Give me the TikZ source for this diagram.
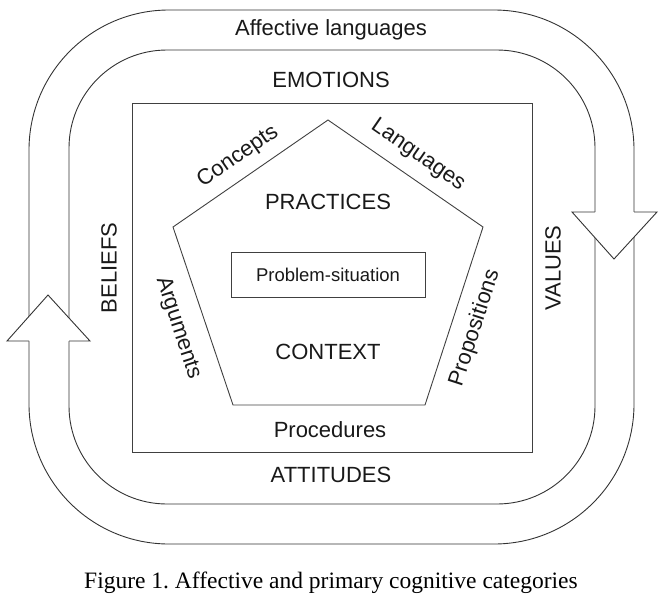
\documentclass[tikz,border=0pt]{standalone}
\usepackage{fontspec}
\setmainfont{Liberation Serif}
\setsansfont{Liberation Sans}
\usetikzlibrary{positioning}
\frenchspacing
\tikzset{
  band/.style={draw=black!80, line width=0.9pt},
  frame/.style={draw=black!75, line width=0.9pt},
  lbl/.style={font=\sffamily\fontsize{22}{24}\selectfont, inner sep=0pt, text=black!90},
  slbl/.style={font=\sffamily\fontsize{18.5}{21}\selectfont, inner sep=0pt, text=black!90},
  capn/.style={font=\rmfamily\fontsize{23.5}{26}\selectfont, inner sep=0pt},
}

\begin{document}
\begin{tikzpicture}[x=1pt, y=-1pt]
\useasboundingbox (0,0) rectangle (671,603);
% affective band
\draw[band, rounded corners=140pt] (29,10) rectangle (634,544);
\draw[band, rounded corners=98pt] (69,50) rectangle (595,504);
% block arrow heads on the band
\fill[white] (7,341) -- (48,295) -- (90,341) -- cycle;
\draw[band, line join=miter] (29,341) -- (7,341) -- (48,295) -- (90,341) -- (69,341);
\fill[white] (572,212) -- (614,259) -- (657,212) -- cycle;
\draw[band, line join=miter] (595,212) -- (572,212) -- (614,259) -- (657,212) -- (634,212);
% cognitive square and pentagon
\draw[frame] (132,103) rectangle (532,452);
\draw[frame] (328,120) -- (483,227) -- (425,405) -- (233,405) -- (173,227) -- cycle;
\node[slbl, frame, inner sep=0pt, minimum width=194pt, minimum height=45pt] (problem) at (328,275) {Problem-situation};

\node[lbl] (affect) at (331,30) {Affective languages};
\node[lbl] (emotions) at (331,80) {EMOTIONS};
\node[lbl] (attitudes) at (331,475) {ATTITUDES};
\node[lbl, rotate=90] (beliefs) at (109,268) {BELIEFS};
\node[lbl, rotate=90] (values) at (553,268) {VALUES};

\node[lbl] (practices) at (328,202) {PRACTICES};
\node[lbl] (context) at (328,352) {CONTEXT};
\node[lbl] (procedures) at (330,430) {Procedures};
\node[lbl, rotate=34.6] (concepts) at (238,157) {Concepts};
\node[lbl, rotate=-34.6] (languages) at (418,155) {Languages};
\node[lbl, rotate=-72] (arguments) at (178,328) {Arguments};
\node[lbl, rotate=72] (propositions) at (475,328) {Propositions};

\node[capn] (caption) at (331,583) {Figure 1. Affective and primary cognitive categories};
\end{tikzpicture}
\end{document}
